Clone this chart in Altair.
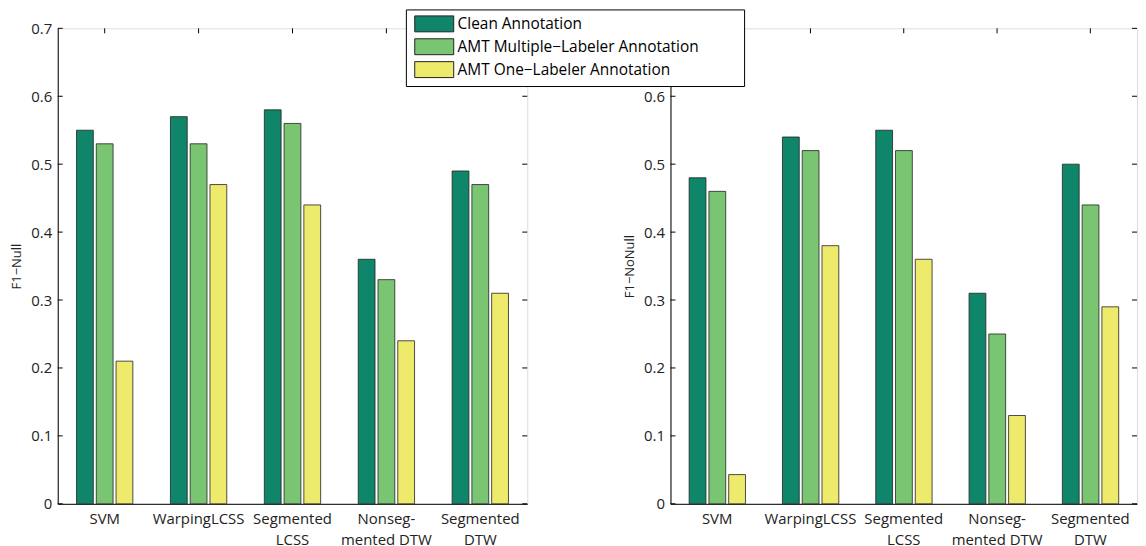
import altair as alt
import pandas as pd

categories = ["SVM", "WarpingLCSS", "Segmented|LCSS", "Nonseg-|mented DTW", "Segmented|DTW"]
series = ["Clean Annotation", "AMT Multiple\u2212Labeler Annotation", "AMT One\u2212Labeler Annotation"]
colors = ["#0F856A", "#7AC572", "#EEEA6C"]

null_clean = [0.55, 0.57, 0.58, 0.36, 0.49]
null_multi = [0.53, 0.53, 0.56, 0.33, 0.47]
null_one = [0.21, 0.47, 0.44, 0.24, 0.31]

nonull_clean = [0.48, 0.54, 0.55, 0.31, 0.50]
nonull_multi = [0.46, 0.52, 0.52, 0.25, 0.44]
nonull_one = [0.043, 0.38, 0.36, 0.13, 0.29]

y_ticks = [0, 0.1, 0.2, 0.3, 0.4, 0.5, 0.6, 0.7]

FONT = "Open Sans"


def long_df(a, b, c):
    rows = []
    for vals, s in zip([a, b, c], series):
        for cat, v in zip(categories, vals):
            rows.append({"cat": cat, "series": s, "value": v})
    return pd.DataFrame(rows)


def panel(df, title, W, H, legend):
    x = alt.X("cat:N", sort=categories,
              scale=alt.Scale(paddingInner=0.4, paddingOuter=0.2),
              axis=alt.Axis(title=None, labelExpr="split(datum.label, '|')",
                            labelAngle=0, labelAlign="center", labelFont=FONT, labelFontSize=15,
                            labelColor="#222", labelLineHeight=21,
                            ticks=False, tickSize=0, labelPadding=8,
                            domainColor="black", labelBaseline="top"))
    y = alt.Y("value:Q", scale=alt.Scale(domain=[0, 0.7], nice=False, zero=True),
              axis=alt.Axis(values=y_ticks, format=".1~f", title=title,
                            titleFont=FONT, titleFontSize=13, titleFontWeight="normal",
                            titleColor="#222", titlePadding=7,
                            labelFont=FONT, labelFontSize=15, labelColor="#222",
                            ticks=False, tickSize=0, labelPadding=6,
                            domainColor="black", grid=False))
    bars = alt.Chart(df).mark_bar(stroke="#222", strokeWidth=0.8).encode(
        x=x,
        xOffset=alt.XOffset("series:N", sort=series, scale=alt.Scale(paddingInner=0.15, paddingOuter=0)),
        y=y,
        color=alt.Color("series:N", sort=series,
                        scale=alt.Scale(domain=series, range=colors),
                        legend=legend),
    )
    tdf = pd.DataFrame({"t": y_ticks})
    left_ticks = alt.Chart(tdf).mark_rule(color="black", strokeWidth=1).encode(
        y=alt.Y("t:Q"), x=alt.value(0), x2=alt.value(5))
    right_ticks = alt.Chart(tdf).mark_rule(color="black", strokeWidth=1).encode(
        y=alt.Y("t:Q"), x=alt.value(W - 5), x2=alt.value(W))
    cdf = pd.DataFrame({"cat": categories})
    top_ticks = alt.Chart(cdf).mark_rule(color="black", strokeWidth=1).encode(
        x=alt.X("cat:N", sort=categories), y=alt.value(0), y2=alt.value(5))
    return alt.layer(left_ticks, right_ticks, top_ticks, bars).properties(width=W, height=H)


legend = alt.Legend(
    orient="none", legendX=350, legendY=-19,
    title="\u00a0", titleOrient="right", titlePadding=40, titleFontSize=4,
    fillColor="white", strokeColor="black", padding=6,
    symbolType="M-2.45,-1H2.45V1H-2.45Z", symbolSize=256,
    symbolStrokeColor="#222", symbolStrokeWidth=1, symbolOpacity=1,
    labelFont=FONT, labelFontSize=15.5, labelColor="black", labelLimit=600,
    labelOffset=15, symbolOffset=14, rowPadding=2,
)

left = panel(long_df(null_clean, null_multi, null_one), "F1\u2212Null", 472, 478, legend)
right = panel(long_df(nonull_clean, nonull_multi, nonull_one), "F1\u2212NoNull", 469, 478, legend)

chart = alt.hconcat(left, right, spacing=95).properties(
    padding={"left": 2, "top": -1, "right": 0, "bottom": 0}
).configure_view(stroke="black", strokeWidth=1).configure(background="white")

chart.save("out.html", embed_options={"renderer": "svg", "actions": False})
